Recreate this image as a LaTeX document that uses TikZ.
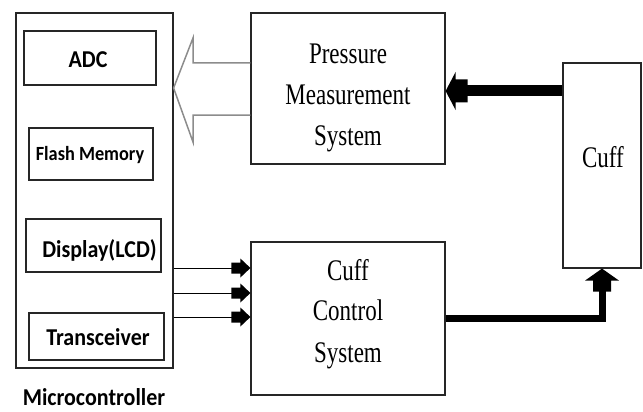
\documentclass[tikz,border=0pt]{standalone}
\usepackage{fontspec}
\setmainfont{Liberation Serif}
\newfontfamily\calfont{Carlito}
\usetikzlibrary{calc}
\newcommand{\stxt}[1]{\scalebox{1}[1.3]{#1}}
\newcommand{\ctxt}[1]{\scalebox{1}[1.1]{#1}}
\tikzset{
  blk/.style={draw=black!85, line width=1.2pt, inner sep=0pt},
  sbox/.style={draw=black!85, line width=1.2pt, inner sep=0pt},
  serlab/.style={anchor=base, inner sep=0pt, font=\fontsize{23}{23}\selectfont},
  callab/.style={anchor=base, inner sep=0pt, font=\calfont\bfseries\fontsize{22}{22}\selectfont},
  thin conn/.style={line width=1pt, shorten >=15pt},
  hollow/.style={draw=black!45, line width=1.5pt, line join=miter},
  pics/bhead/.style args={#1/#2/#3/#4}{code={
    \fill (0,0) -- (-#1,#2/2) -- (-#1,#4/2) -- (-#1-#3,#4/2) -- (-#1-#3,-#4/2)
      -- (-#1,-#4/2) -- (-#1,-#2/2) -- cycle;}},
}
\begin{document}
\begin{tikzpicture}[x=1pt,y=-1pt]
\useasboundingbox (0,0) rectangle (643,412);
% microcontroller
\node[blk, minimum width=157pt, minimum height=355pt] (mc) at (94.5,190.5) {};
\node[sbox, minimum width=132pt, minimum height=54pt] (adc) at (90,58) {};
\node[sbox, minimum width=124pt, minimum height=52pt] (flash) at (91,154) {};
\node[sbox, minimum width=135pt, minimum height=53pt] (disp) at (93.5,245.5) {};
\node[sbox, minimum width=135pt, minimum height=47pt] (trx) at (96.5,336.5) {};
\node[callab] (adct) at (88,68) {\ctxt{ADC}};
\node[callab, font=\calfont\bfseries\fontsize{18.3}{18.3}\selectfont] (flasht) at (90,160) {\ctxt{Flash Memory}};
\node[callab] (dispt) at (99.5,257) {\ctxt{Display(LCD)}};
\node[callab] (trxt) at (98,345) {\ctxt{Transceiver}};
\node[callab] (mct) at (94,405) {\ctxt{Microcontroller}};
% pressure measurement system
\node[blk, minimum width=194pt, minimum height=151pt] (pms) at (348,88.5) {};
\node[serlab] (pms1) at (348,64) {\stxt{Pressure}};
\node[serlab] (pms2) at (348,105) {\stxt{Measurement}};
\node[serlab] (pms3) at (348,145) {\stxt{System}};
% cuff control system
\node[blk, minimum width=194pt, minimum height=153pt] (ccs) at (348,318.5) {};
\node[serlab] (ccs1) at (348,280) {\stxt{Cuff}};
\node[serlab] (ccs2) at (348,320) {\stxt{Control}};
\node[serlab] (ccs3) at (348,362) {\stxt{System}};
% cuff
\node[blk, minimum width=78pt, minimum height=205pt] (cuff) at (602,165.5) {};
\node[serlab] (cufft) at (603,167) {\stxt{Cuff}};
% hollow arrow PMS -> MC
\draw[hollow] (pms.west |- 0,63) -- (193,63) -- (193,38) -- (mc.east |- 0,88)
  -- (193,142) -- (193,115) -- (pms.west |- 0,115);
% thin arrows MC -> CCS
\foreach \yy in {268,293,317} {
  \draw[thin conn] (mc.east |- 0,\yy) -- (ccs.west |- 0,\yy);
  \pic at (ccs.west |- 0,\yy) {bhead=10/19/9/11};
}
% thick arrow cuff -> PMS
\draw[line width=11pt, shorten >=15pt] (cuff.west |- 0,91) -- (pms.east |- 0,91);
\pic[rotate=180] at (pms.east |- 0,91) {bhead=10/38/12/23};
% thick arrow CCS -> cuff
\draw[line width=7pt, line join=miter, shorten >=18pt] (ccs.east |- 0,318) -| (cuff.south);
\pic[rotate=90] at (cuff.south) {bhead=12/34/11/18};
\end{tikzpicture}
\end{document}
